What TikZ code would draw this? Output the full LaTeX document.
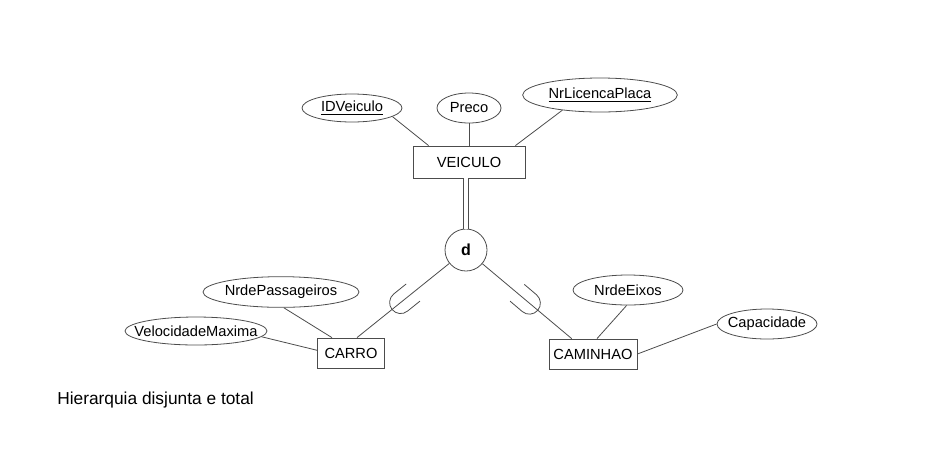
\documentclass[tikz,border=0pt]{standalone}
\usepackage{fontspec}
\setmainfont{Liberation Sans}
\usepackage{tikz}
\usetikzlibrary{positioning}
\usetikzlibrary{shapes.geometric,calc}
\tikzstyle{er_ent} = [rectangle, draw=black!70, line width=0.6pt, inner sep=0pt, font=\fontsize{11}{13}\selectfont, align=center, minimum height=22.5pt]
\tikzstyle{er_att} = [ellipse, draw=black!70, line width=0.6pt, inner ysep=0pt, inner xsep=-12pt, font=\fontsize{11}{13}\selectfont, align=center, minimum height=22.5pt]
\tikzstyle{er_d} = [circle, draw=black!70, line width=0.6pt, inner sep=0pt, minimum size=31.5pt, font=\fontsize{12}{14}\selectfont\bfseries]
\tikzstyle{er_lig} = [draw=black!70, line width=0.6pt]

\begin{document}
\begin{tikzpicture}[x=0.75pt,y=-0.75pt]
\useasboundingbox (0,0) rectangle (929,455);
% superclasse e atributos
\node [er_ent, minimum width=84pt, minimum height=24pt] (veiculo) at (469,162) {VEICULO};
\node [er_att, minimum width=75pt, minimum height=21pt] (id) at (352,108) {\underline{IDVeiculo}};
\node [er_att, minimum width=48pt] (preco) at (469,108) {Preco};
\node [er_att, minimum width=116pt, minimum height=25.5pt] (placa) at (600,95) {\underline{NrLicencaPlaca}};
\node [er_d] (d) at (466,250) {d};
% subclasses
\node [er_ent, minimum width=50pt] (carro) at (351,353) {CARRO};
\node [er_ent, minimum width=66pt] (caminhao) at (593,354) {CAMINHAO};
\node [er_att, minimum width=117pt, minimum height=23pt] (passag) at (281,292) {NrdePassageiros};
\node [er_att, minimum width=106.5pt, minimum height=21pt] (veloc) at (196,331) {VelocidadeMaxima};
\node [er_att, minimum width=82.5pt] (eixos) at (628,290) {NrdeEixos};
\node [er_att, minimum width=75pt] (capac) at (767,324) {Capacidade};
\node [anchor=west, inner sep=0pt, font=\fontsize{13}{15}\selectfont] (legenda) at (57,400) {Hierarquia disjunta e total};

\coordinate (c1) at ([xshift=4.5pt]carro.north);
\coordinate (c2) at ([xshift=-16pt]caminhao.north);

\draw [er_lig] (id.-12) -- ([xshift=12pt]veiculo.north west);
\draw [er_lig] (preco) -- (veiculo);
\draw [er_lig] (placa.-158) -- ([xshift=-7.5pt]veiculo.north east);
\draw [er_lig, double=white, double distance=3.5pt] (d) -- (d |- veiculo.south);
\draw [er_lig] (d) -- (c1);
\draw [er_lig] (d) -- (c2);
\draw [er_lig] (passag.-80) -- ([xshift=11pt]carro.north west);
\draw [er_lig] (veloc.-5) -- ([yshift=2pt]carro.west);
\draw [er_lig] (eixos.-95) -- ([xshift=3pt]caminhao.north);
\draw [er_lig] (capac.west) -- (caminhao.east);
% simbolos de subconjunto
\draw [er_lig, shift={($(d.center)!0.6!(c1)$)}, rotate=38.8] (12pt,8.25pt) -- (0pt,8.25pt) arc [start angle=90, end angle=270, radius=8.25pt] -- (12pt,-8.25pt);
\draw [er_lig, shift={($(d.center)!0.6!(c2)$)}, rotate=139.6] (12pt,8.25pt) -- (0pt,8.25pt) arc [start angle=90, end angle=270, radius=8.25pt] -- (12pt,-8.25pt);
\end{tikzpicture}
\end{document}
